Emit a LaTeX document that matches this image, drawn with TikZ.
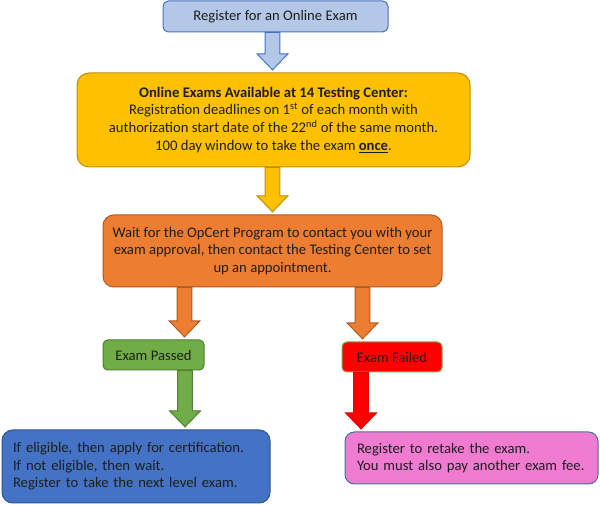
\documentclass[tikz,border=0pt]{standalone}
\usepackage{fontspec}
\setmainfont{Carlito}
\usetikzlibrary{calc}
\definecolor{topfill}{HTML}{B4C7E7}
\definecolor{topdraw}{HTML}{4472C4}
\definecolor{yelfill}{HTML}{FFC000}
\definecolor{yeldraw}{HTML}{BF9000}
\definecolor{orfill}{HTML}{ED7D31}
\definecolor{ordraw}{HTML}{AE5A21}
\definecolor{grfill}{HTML}{70AD47}
\definecolor{grdraw}{HTML}{507E32}
\definecolor{rdfill}{HTML}{FF0000}
\definecolor{rddraw}{HTML}{E00000}
\definecolor{blfill}{HTML}{4472C4}
\definecolor{bldraw}{HTML}{2F528F}
\definecolor{pkfill}{HTML}{F07CD2}
\definecolor{pkdraw}{HTML}{41719C}
\definecolor{txt}{HTML}{1E1E1E}
\newcommand\blockarrow[4]{%
  \draw[#1] let \p0=(#2,0), \p1=(#3.south), \p2=(#4.north) in
   (\x0-5.6pt,\y1) -- (\x0+5.6pt,\y1) -- (\x0+5.6pt,\y2+14pt) -- (\x0+11.6pt,\y2+14pt)
   -- (\x0,\y2+2pt) -- (\x0-11.6pt,\y2+14pt) -- (\x0-5.6pt,\y2+14pt) -- cycle;}
\begin{document}
\begin{tikzpicture}[x=0.75pt,y=-0.75pt,
  box/.style={draw, line width=0.75pt, text=txt, inner sep=0pt,
    font=\fontsize{11pt}{13.2pt}\selectfont},
  arr/.style={line width=0.75pt, line join=miter}]
\useasboundingbox (0,0) rectangle (600,505);
\node[box, fill=topfill, draw=topdraw, rounded corners=4pt,
  minimum width=168.75pt, minimum height=23.25pt] (reg) at (275.5,16.5)
  {Register for an Online Exam};
\node[box, fill=yelfill, draw=yeldraw, rounded corners=9pt, align=center,
  minimum width=294.75pt, minimum height=70.5pt] (online) at (273.5,120)
  {\textbf{Online Exams Available at 14 Testing Center:}\\
   Registration deadlines on 1\textsuperscript{st} of each month with\\
   authorization start date of the 22\textsuperscript{nd} of the same month.\\
   100 day window to take the exam \textbf{\underline{once}}.};
\node[box, fill=orfill, draw=ordraw, rounded corners=8pt, align=center,
  minimum width=254.25pt, minimum height=54pt] (wait) at (272.5,251)
  {Wait for the OpCert Program to contact you with your\\
   exam approval, then contact the Testing Center to set\\
   up an appointment.};
\node[box, fill=grfill, draw=grdraw, rounded corners=3.5pt,
  minimum width=75.75pt, minimum height=22.5pt] (passed) at (153.5,355)
  {Exam Passed};
\node[box, fill=rdfill, draw=grfill, rounded corners=3.5pt,
  minimum width=75pt, minimum height=22.5pt] (failed) at (392,357)
  {Exam Failed};
\node[box, fill=blfill, draw=bldraw, rounded corners=8pt, align=left,
  inner xsep=8.25pt, text width=184.5pt, minimum height=54.75pt] (cert) at (136,466.5)
  {If eligible, then apply for certification.\\
   If not eligible, then wait.\\
   Register to take the next level exam.};
\node[box, fill=pkfill, draw=pkdraw, rounded corners=7pt, align=left,
  inner xsep=9pt, text width=171.75pt, minimum height=39pt] (retake) at (471.5,458)
  {Register to retake the exam.\\
   You must also pay another exam fee.};
\blockarrow{arr, fill=topfill, draw=topdraw}{272.5}{reg}{online}
\blockarrow{arr, fill=yelfill, draw=yeldraw}{272.5}{online}{wait}
\blockarrow{arr, fill=orfill, draw=ordraw}{184.5}{wait}{passed}
\blockarrow{arr, fill=orfill, draw=ordraw}{362.5}{wait}{failed}
\blockarrow{arr, fill=grfill, draw=grdraw}{185}{passed}{cert}
\blockarrow{arr, fill=rdfill, draw=rddraw}{361}{failed}{retake}
\end{tikzpicture}
\end{document}
